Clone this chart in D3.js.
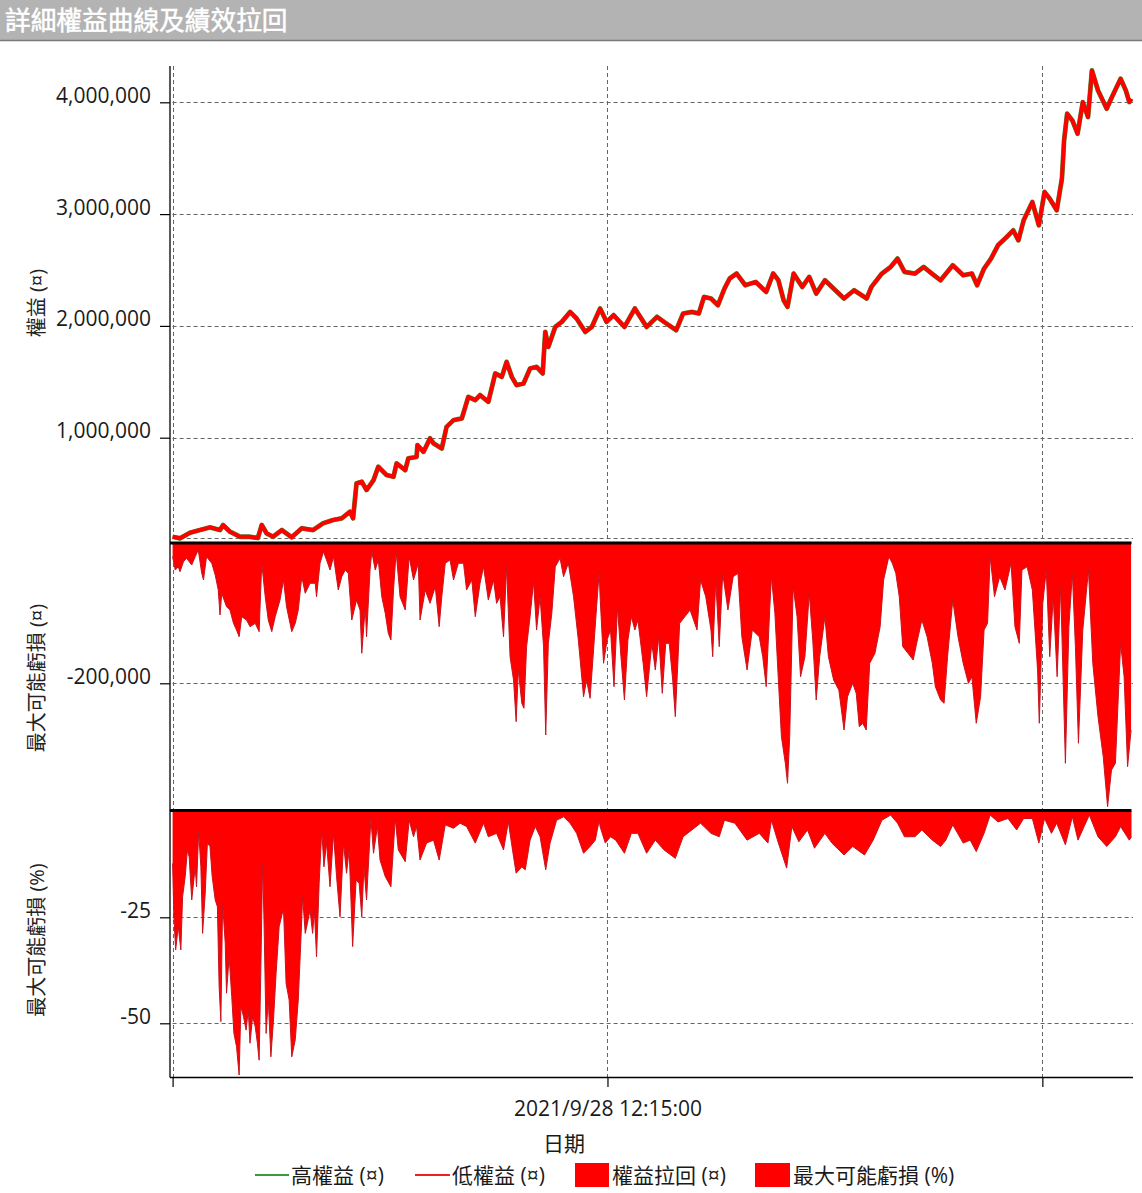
<!DOCTYPE html>
<html><head><meta charset="utf-8">
<script src="https://cdn.jsdelivr.net/npm/d3@7"></script>
<style>
body{margin:0;background:#fff;}
text{font-family:"Open Sans","Noto Sans CJK TC",sans-serif;}
</style></head><body>
<svg id="c" width="1142" height="1193"></svg>
<script>
// ---------------- DATA ----------------
const chartTitle = "詳細權益曲線及績效拉回";
const xTickValues = [0, 1000, 2000];           // bar numbers
const xTickLabels = ["", "2021/9/28 12:15:00", ""];
const xAxisTitle = "日期";
const xDomain = [0, 2205];

const equityTicks = [1000000, 2000000, 3000000, 4000000];
const equityTickLabels = ["1,000,000", "2,000,000", "3,000,000", "4,000,000"];
const ddTicks = [-200000];
const ddTickLabels = ["-200,000"];
const pctTicks = [-25, -50];
const pctTickLabels = ["-25", "-50"];

const axisTitles = ["權益 (¤)", "最大可能虧損 (¤)", "最大可能虧損 (%)"];
const legendLabels = ["高權益 (¤)", "低權益 (¤)", "權益拉回 (¤)", "最大可能虧損 (%)"];

// equity curve: [bar, equity]
const equityPoints = [
[0,114000],[17,100000],[40,150000],[63,174000],[86,198000],[109,174000],[116,219000],[132,159000],[155,114000],[178,114000],
[196,103000],[205,219000],[216,145000],[231,114000],[251,174000],[274,109000],[297,190000],[323,174000],[346,234000],[369,264000],
[389,279000],[408,338000],[415,279000],[423,592000],[435,606000],[446,532000],[462,621000],[473,740000],[492,666000],[508,651000],
[515,770000],[535,710000],[542,815000],[561,829000],[563,934000],[577,874000],[592,994000],[600,949000],[619,904000],[630,1097000],
[646,1157000],[665,1172000],[680,1365000],[696,1336000],[707,1381000],[726,1321000],[742,1575000],[757,1544000],[768,1678000],[780,1544000],
[791,1470000],[807,1485000],[822,1619000],[837,1634000],[851,1575000],[857,1946000],[864,1812000],[880,1991000],[895,2036000],[914,2125000],
[929,2066000],[949,1946000],[964,1991000],[983,2156000],[998,2036000],[1014,2096000],[1039,1991000],[1063,2156000],[1090,1991000],[1114,2081000],
[1130,2036000],[1158,1962000],[1174,2111000],[1194,2125000],[1210,2111000],[1222,2259000],[1238,2245000],[1254,2185000],[1269,2334000],[1281,2424000],
[1297,2468000],[1317,2364000],[1341,2393000],[1365,2304000],[1381,2468000],[1393,2408000],[1405,2230000],[1414,2170000],[1428,2468000],[1448,2349000],
[1464,2438000],[1480,2289000],[1500,2408000],[1524,2319000],[1544,2245000],[1567,2319000],[1596,2245000],[1607,2349000],[1631,2468000],[1651,2527000],
[1667,2602000],[1683,2483000],[1707,2468000],[1727,2527000],[1746,2468000],[1766,2408000],[1794,2542000],[1818,2453000],[1838,2468000],[1850,2364000],
[1866,2513000],[1882,2602000],[1898,2721000],[1918,2795000],[1933,2855000],[1945,2766000],[1957,2945000],[1977,3108000],[1992,2900000],[2005,3198000],
[2017,3138000],[2033,3034000],[2045,3317000],[2050,3660000],[2057,3898000],[2069,3838000],[2081,3719000],[2093,4002000],[2105,3868000],[2114,4285000],
[2128,4106000],[2148,3943000],[2160,4047000],[2180,4211000],[2192,4106000],[2200,4002000],[2205,4032000]
];

// maximum possible loss (currency): [bar, value]
const drawdownPoints = [
[0,-19500],[6,-38500],[13,-33800],[17,-40900],[25,-26700],[32,-21800],[44,-31400],[52,-19500],[59,-10000],[67,-43200],
[71,-52700],[78,-19500],[90,-28900],[98,-45600],[105,-67000],[109,-102600],[113,-71700],[124,-90800],[132,-95500],[140,-114500],
[147,-124000],[153,-133600],[159,-105000],[170,-109800],[178,-119300],[190,-114500],[199,-126400],[205,-28900],[213,-76500],[220,-109800],
[228,-126400],[236,-105000],[247,-81300],[255,-52700],[262,-90800],[274,-126400],[282,-114500],[289,-95500],[297,-48000],[305,-71700],
[316,-57400],[328,-57400],[331,-76500],[339,-28900],[347,-12400],[354,-24200],[362,-38500],[370,-19500],[381,-67000],[389,-48000],
[397,-38500],[404,-43200],[412,-109800],[423,-81300],[431,-95500],[435,-157200],[443,-90800],[446,-133600],[454,-38500],[458,-12400],
[466,-38500],[473,-24200],[481,-76500],[489,-100200],[496,-128700],[502,-138300],[508,-67000],[514,-12400],[523,-76500],[535,-95500],
[544,-19500],[554,-52700],[565,-28900],[569,-109800],[581,-67000],[592,-86000],[604,-62300],[613,-119300],[619,-76500],[627,-28900],
[638,-24200],[646,-52700],[657,-28900],[669,-28900],[676,-67000],[688,-52700],[696,-105000],[707,-57400],[715,-33800],[726,-81300],
[738,-52700],[745,-86000],[753,-76500],[761,-133600],[768,-33800],[776,-162100],[784,-195300],[790,-254700],[795,-181000],[803,-228500],
[808,-235600],[814,-147800],[822,-105000],[830,-55200],[837,-124000],[845,-76500],[853,-147800],[858,-273700],[864,-143000],[872,-100200],
[880,-33800],[891,-21800],[899,-48000],[910,-28900],[922,-76500],[933,-138300],[945,-219100],[952,-195300],[960,-221400],[968,-152500],
[975,-90800],[981,-40900],[983,-76500],[991,-171500],[999,-138300],[1007,-124000],[1015,-204800],[1023,-90800],[1031,-162100],[1039,-223800],
[1047,-138300],[1055,-105000],[1063,-124000],[1070,-109800],[1082,-171500],[1090,-219100],[1102,-143000],[1110,-181000],[1118,-133600],[1126,-214300],
[1134,-143000],[1142,-143000],[1150,-195300],[1156,-247600],[1166,-114500],[1178,-105000],[1190,-95500],[1206,-124000],[1214,-52700],[1226,-76500],
[1238,-124000],[1242,-162100],[1249,-52700],[1257,-147800],[1265,-43200],[1277,-95500],[1289,-48000],[1300,-43200],[1309,-133600],[1321,-181000],
[1333,-124000],[1349,-133600],[1357,-162100],[1365,-204800],[1373,-95500],[1377,-48000],[1385,-100200],[1393,-195300],[1400,-276100],[1409,-314000],
[1414,-342500],[1419,-276100],[1427,-62300],[1436,-105000],[1444,-190600],[1454,-162100],[1464,-71700],[1472,-138300],[1480,-223800],[1488,-162100],
[1500,-105000],[1508,-162100],[1520,-195300],[1532,-209500],[1544,-266600],[1552,-219100],[1564,-200000],[1572,-214300],[1579,-261900],[1587,-257000],
[1595,-266600],[1603,-171500],[1615,-157200],[1627,-119300],[1635,-52700],[1647,-19500],[1655,-28900],[1663,-43200],[1671,-76500],[1679,-147800],
[1691,-157200],[1703,-166800],[1711,-143000],[1723,-109800],[1735,-133600],[1747,-171500],[1754,-204800],[1766,-223800],[1774,-228500],[1782,-162100],
[1794,-81300],[1806,-133600],[1818,-171500],[1830,-200000],[1838,-190600],[1848,-257000],[1858,-219100],[1866,-124000],[1874,-114500],[1880,-19500],
[1890,-76500],[1902,-48000],[1914,-67000],[1928,-28900],[1937,-119300],[1947,-143000],[1953,-38500],[1965,-33800],[1977,-67000],[1989,-181000],
[1993,-257000],[2001,-86000],[2009,-38500],[2017,-162100],[2025,-76500],[2034,-190600],[2042,-62300],[2053,-314000],[2061,-119300],[2069,-43200],
[2076,-147800],[2083,-285500],[2093,-124000],[2106,-38500],[2116,-171500],[2128,-247600],[2140,-304600],[2150,-375900],[2159,-323600],[2168,-314000],
[2180,-143000],[2188,-190600],[2196,-318900],[2204,-266600]
];

// maximum possible loss (%): [bar, value]
const maxLossPctPoints = [
[0,-12.3],[3,-24.9],[7,-32.7],[13,-27.2],[19,-32.7],[23,-20.1],[29,-15.4],[34,-9.1],[38,-10.7],[44,-20.9],
[52,-13.1],[55,-17.8],[60,-4.8],[65,-13.1],[69,-28.8],[75,-19.3],[80,-7.5],[86,-8.3],[91,-15.4],[98,-20.9],
[103,-22.5],[107,-41.4],[111,-49.6],[115,-21.7],[121,-31.1],[124,-42.9],[130,-34.3],[136,-43.7],[141,-52.4],[147,-55.5],
[153,-62.2],[157,-46.1],[163,-48.4],[169,-51.6],[174,-46.9],[178,-54.7],[184,-48.4],[190,-50.8],[195,-54.7],[199,-58.7],
[203,-36.7],[207,-12.3],[210,-24.9],[215,-52.4],[220,-44.5],[226,-57.9],[232,-49.2],[238,-38.2],[245,-27.2],[255,-22.9],
[261,-40.6],[268,-44.5],[274,-57.9],[282,-53.9],[289,-44.5],[295,-30.4],[299,-20.1],[305,-28.8],[310,-26.4],[316,-23.3],
[322,-28.8],[326,-23.3],[331,-34.3],[337,-17],[343,-4.4],[348,-13.1],[354,-7.5],[362,-17.8],[370,-5.2],[377,-15.4],
[385,-24.9],[393,-7.5],[400,-14.6],[406,-9.1],[414,-31.9],[422,-16.2],[429,-17],[435,-24.9],[440,-13.1],[446,-20.9],
[456,-1.7],[462,-9.9],[471,-3.6],[477,-11.5],[489,-15.4],[502,-17.8],[512,-1.7],[519,-9.1],[535,-11.9],[544,-2.1],
[554,-6],[561,-3.6],[569,-11.5],[584,-7.5],[600,-6.8],[613,-11.5],[627,-3.2],[646,-4],[661,-2.8],[676,-3.6],
[696,-7.5],[715,-2.8],[726,-6],[745,-5.2],[761,-9.1],[772,-2.5],[784,-10.7],[790,-14.6],[803,-13.1],[811,-13.8],
[822,-6.8],[834,-3.6],[845,-6],[858,-13.8],[868,-7.5],[883,-2.1],[899,-1.3],[914,-2.8],[929,-5.2],[945,-9.9],
[960,-8.3],[972,-6.8],[981,-2.1],[983,-3.6],[995,-7.5],[1007,-6],[1019,-6.8],[1039,-9.9],[1055,-5.2],[1070,-5.2],
[1090,-9.9],[1110,-6.8],[1130,-9.1],[1156,-11.1],[1174,-6],[1194,-4.4],[1214,-2.8],[1238,-5.2],[1257,-6],[1269,-2.1],
[1293,-2.8],[1321,-6.8],[1349,-5.2],[1369,-7.5],[1377,-2.1],[1393,-7.5],[1412,-13.4],[1424,-3.6],[1440,-7.2],[1460,-4.4],
[1476,-8.7],[1500,-5.2],[1516,-7.5],[1544,-10.3],[1564,-8.3],[1591,-10.3],[1611,-6.8],[1631,-2.1],[1651,-0.9],[1667,-2.8],
[1683,-6],[1707,-6],[1723,-4.4],[1747,-6.8],[1766,-8.3],[1778,-6.8],[1794,-3.2],[1818,-7.5],[1834,-6.8],[1848,-9.5],
[1866,-5.2],[1880,-0.9],[1898,-2.5],[1921,-1.7],[1941,-4.4],[1957,-1.7],[1977,-1.7],[1992,-7.5],[2005,-1.7],[2021,-5.2],
[2033,-2.8],[2053,-7.9],[2069,-1.3],[2082,-6.8],[2096,-3.6],[2108,-0.9],[2128,-6],[2148,-8.3],[2168,-6],[2180,-3.6],
[2200,-6.8],[2205,-6]
];

// ---------------- DRAW ----------------
const svg = d3.select("#c");
const RED = "#ff0000", EDGE = "#c8141e", GREEN = "#3a9a3a", GRID = "#666";
const axisX = 170, plotL = 172.6, plotR = 1131.5, plotRight = 1133;
const topY0 = 66, botY1 = 1077;

const x = d3.scaleLinear().domain(xDomain).range([plotL, plotR]);
const yEq = d3.scaleLinear().domain([1000000, 4000000]).range([437.7, 102.3]);
const yDd = d3.scaleLinear().domain([0, -200000]).range([543, 683.3]);
const yPct = d3.scaleLinear().domain([0, -25]).range([811.3, 917.3]);

// title bar
svg.append("rect").attr("x",0).attr("y",0).attr("width",1142).attr("height",40).attr("fill","#b3b3b3");
svg.append("line").attr("x1",0).attr("x2",1142).attr("y1",40.5).attr("y2",40.5).attr("stroke","#7a7a7a").attr("stroke-width",1.5);
svg.append("text").attr("x",5).attr("y",20).attr("dominant-baseline","central")
  .attr("fill","#fff").attr("font-size",25.7).attr("font-weight","normal")
  .attr("stroke","#fff").attr("stroke-width",0.5).text(chartTitle);

// clip paths
const defs = svg.append("defs");
function clip(id, y0, y1){
  defs.append("clipPath").attr("id",id).append("rect")
    .attr("x",plotL-2).attr("y",y0).attr("width",plotRight-plotL+2).attr("height",y1-y0);
}
clip("cTop", topY0, 541);
clip("cMid", 543, 809.5);
clip("cBot", 811, botY1);

// horizontal gridlines
const gridG = svg.append("g").attr("stroke",GRID).attr("stroke-width",1).attr("stroke-dasharray","4,3");
function hGrid(yv){
  gridG.append("line").attr("x1",plotL).attr("x2",plotRight).attr("y1",yv).attr("y2",yv);
}
equityTicks.forEach(v => hGrid(Math.round(yEq(v))+0.5));
hGrid(538.5);
ddTicks.forEach(v => hGrid(Math.round(yDd(v))+0.5));
pctTicks.forEach(v => hGrid(Math.round(yPct(v))+0.5));
// vertical gridlines
xTickValues.forEach(v => {
  const xv = Math.round(x(v))+0.5;
  gridG.append("line").attr("x1",xv).attr("x2",xv).attr("y1",topY0).attr("y2",botY1);
});

// equity lines
const eqLine = d3.line().x(d => x(d[0])).y(d => yEq(d[1]));
const topG = svg.append("g").attr("clip-path","url(#cTop)");
topG.append("path").datum(equityPoints).attr("d",eqLine).attr("fill","none")
  .attr("stroke",GREEN).attr("stroke-width",4.8).attr("stroke-linejoin","round");
topG.append("path").datum(equityPoints).attr("d",eqLine).attr("fill","none")
  .attr("stroke",RED).attr("stroke-width",4).attr("stroke-linejoin","round");

// drawdown currency area
const midG = svg.append("g").attr("clip-path","url(#cMid)");
midG.append("path").datum(drawdownPoints)
  .attr("d", d3.area().x(d => x(d[0])).y0(yDd(0)).y1(d => yDd(d[1])))
  .attr("fill",RED);
midG.append("path").datum(drawdownPoints)
  .attr("d", d3.line().x(d => x(d[0])).y(d => yDd(d[1])))
  .attr("fill","none").attr("stroke",EDGE).attr("stroke-width",1);

// drawdown percent area
const botG = svg.append("g").attr("clip-path","url(#cBot)");
botG.append("path").datum(maxLossPctPoints)
  .attr("d", d3.area().x(d => x(d[0])).y0(yPct(0)).y1(d => yPct(d[1])))
  .attr("fill",RED);
botG.append("path").datum(maxLossPctPoints)
  .attr("d", d3.line().x(d => x(d[0])).y(d => yPct(d[1])))
  .attr("fill","none").attr("stroke",EDGE).attr("stroke-width",1);

// panel separators (thick black)
[543, 810.5].forEach(yv => {
  svg.append("line").attr("x1",axisX).attr("x2",plotR).attr("y1",yv).attr("y2",yv)
    .attr("stroke","#000").attr("stroke-width",3);
});

// left axes
function leftAxis(scale, ticks, labels){
  const g = svg.append("g").attr("transform",`translate(${axisX},0)`)
    .call(d3.axisLeft(scale).tickValues(ticks).tickFormat((d,i)=>labels[i]).tickSize(10).tickPadding(9).tickSizeOuter(0));
  g.select(".domain").remove();
  g.selectAll(".tick line").attr("stroke","#000").attr("stroke-width",1.2);
  g.selectAll(".tick text").attr("dy","0").attr("font-size",21).attr("fill","#1a1a1a")
    .attr("font-family",'"Open Sans","Noto Sans CJK TC",sans-serif');
}
leftAxis(yEq, equityTicks, equityTickLabels);
leftAxis(yDd, ddTicks, ddTickLabels);
leftAxis(yPct, pctTicks, pctTickLabels);

// axis lines
svg.append("line").attr("x1",axisX).attr("x2",axisX).attr("y1",topY0).attr("y2",botY1+0.5).attr("stroke","#000").attr("stroke-width",1.3);
// bottom axis
const bx = svg.append("g").attr("transform",`translate(0,${botY1})`)
  .call(d3.axisBottom(x).tickValues(xTickValues).tickFormat((d,i)=>xTickLabels[i]).tickSize(10).tickPadding(14).tickSizeOuter(0));
bx.select(".domain").remove();
bx.selectAll(".tick line").attr("stroke","#000").attr("stroke-width",1.2);
bx.selectAll(".tick text").attr("font-size",21).attr("fill","#1a1a1a")
  .attr("font-family",'"Open Sans","Noto Sans CJK TC",sans-serif');
svg.append("line").attr("x1",axisX).attr("x2",plotRight).attr("y1",botY1+0.5).attr("y2",botY1+0.5).attr("stroke","#000").attr("stroke-width",1.3);

// axis titles
[[303, axisTitles[0]], [678, axisTitles[1]], [940, axisTitles[2]]].forEach(([cy, t]) => {
  svg.append("text").attr("transform",`translate(36,${cy}) rotate(-90)`)
    .attr("text-anchor","middle").attr("dominant-baseline","central")
    .attr("font-size",20).attr("fill","#222").text(t);
});
svg.append("text").attr("x",564).attr("y",1143).attr("text-anchor","middle").attr("dominant-baseline","central")
  .attr("font-size",21).attr("fill","#1a1a1a").text(xAxisTitle);

// legend
const lg = svg.append("g");
const ly = 1175;
lg.append("line").attr("x1",255).attr("x2",289).attr("y1",ly).attr("y2",ly).attr("stroke",GREEN).attr("stroke-width",2);
lg.append("text").attr("x",291).attr("y",ly).attr("dominant-baseline","central").attr("font-size",21).attr("fill","#1a1a1a").text(legendLabels[0]);
lg.append("line").attr("x1",415).attr("x2",450).attr("y1",ly).attr("y2",ly).attr("stroke","#f02020").attr("stroke-width",2);
lg.append("text").attr("x",452).attr("y",ly).attr("dominant-baseline","central").attr("font-size",21).attr("fill","#1a1a1a").text(legendLabels[1]);
lg.append("rect").attr("x",575).attr("y",1163).attr("width",34).attr("height",24).attr("fill",RED);
lg.append("text").attr("x",612).attr("y",ly).attr("dominant-baseline","central").attr("font-size",21).attr("fill","#1a1a1a").text(legendLabels[2]);
lg.append("rect").attr("x",755).attr("y",1163).attr("width",35).attr("height",24).attr("fill",RED);
lg.append("text").attr("x",793).attr("y",ly).attr("dominant-baseline","central").attr("font-size",21).attr("fill","#1a1a1a").text(legendLabels[3]);
</script>
</body></html>
